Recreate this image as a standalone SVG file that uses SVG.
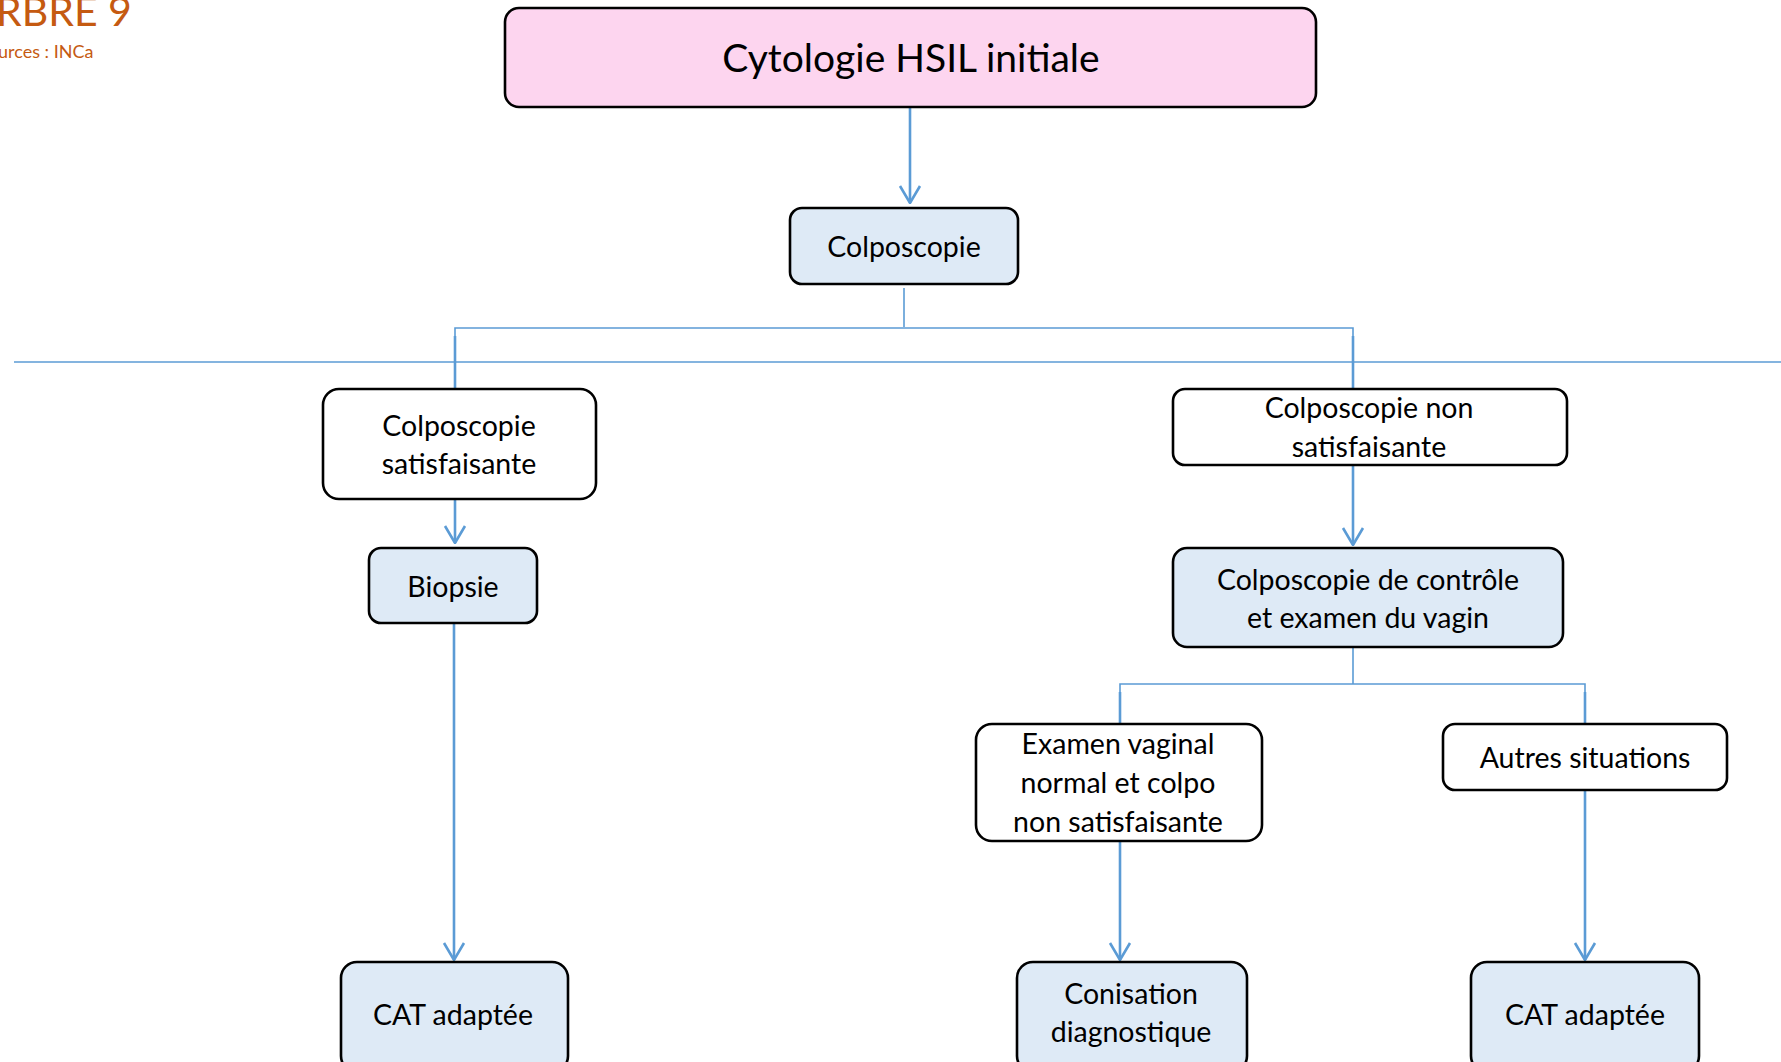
<svg xmlns="http://www.w3.org/2000/svg" width="1781" height="1062" viewBox="0 0 1781 1062">
<defs>
<style>
.box{stroke:#000;stroke-width:2.6}
.pink{fill:#FDD5EF}
.blue{fill:#DEEAF6}
.white{fill:#fff}
.t{font-family:Lato,"Open Sans","Liberation Sans",sans-serif;font-size:28.5px;fill:#000;text-anchor:middle}
.c{fill:none;stroke:#5B9BD5}
.thick{stroke-width:2.6}
.thin{stroke-width:1.6}
.org{font-family:Lato,"Open Sans","Liberation Sans",sans-serif;fill:#C55A11}
</style>
<marker id="ah" markerUnits="userSpaceOnUse" markerWidth="20" markerHeight="24" viewBox="-19 -12 20 24" refX="0" refY="0" orient="auto">
<path d="M-17,-10 L0,0 L-17,10" fill="none" stroke="#5B9BD5" stroke-width="2.6"/>
</marker>
</defs>
<rect width="1781" height="1062" fill="#fff"/>
<text class="org" x="-4" y="26" font-size="41">RBRE 9</text>
<text class="org" x="-2" y="58" font-size="18">urces : INCa</text>
<g id="connectors">
<line class="c thick" x1="910" y1="108" x2="910" y2="203" marker-end="url(#ah)"/>
<line class="c thin" x1="904" y1="288" x2="904" y2="327"/>
<polyline class="c thin" points="455,389 455,328 1353,328 1353,389"/>
<line class="c thin" x1="14" y1="362" x2="1781" y2="362"/>
<line class="c thick" x1="455" y1="336" x2="455" y2="389"/>
<line class="c thick" x1="1353" y1="336" x2="1353" y2="389"/>
<line class="c thick" x1="455" y1="499" x2="455" y2="543" marker-end="url(#ah)"/>
<line class="c thick" x1="1353" y1="465" x2="1353" y2="545" marker-end="url(#ah)"/>
<line class="c thick" x1="454" y1="623" x2="454" y2="960" marker-end="url(#ah)"/>
<line class="c thin" x1="1353" y1="647" x2="1353" y2="684"/>
<polyline class="c thin" points="1120,724 1120,684 1585,684 1585,724"/>
<line class="c thick" x1="1120" y1="692" x2="1120" y2="724"/>
<line class="c thick" x1="1585" y1="692" x2="1585" y2="724"/>
<line class="c thick" x1="1120" y1="841" x2="1120" y2="960" marker-end="url(#ah)"/>
<line class="c thick" x1="1585" y1="790" x2="1585" y2="960" marker-end="url(#ah)"/>
</g>
<g id="n-cytologie">
<rect class="box pink" x="505" y="8" width="811" height="99" rx="14"/>
<text class="t" x="911" y="72" style="font-size:39px">Cytologie HSIL initiale</text>
</g>
<g id="n-colposcopie">
<rect class="box blue" x="790" y="208" width="228" height="76" rx="12"/>
<text class="t" x="904" y="257">Colposcopie</text>
</g>
<g id="n-colpo-sat">
<rect class="box white" x="323" y="389" width="273" height="110" rx="16"/>
<text class="t" x="459" y="436">Colposcopie</text>
<text class="t" x="459" y="474">satisfaisante</text>
</g>
<g id="n-colpo-nonsat">
<rect class="box white" x="1173" y="389" width="394" height="76" rx="12"/>
<text class="t" x="1369" y="418">Colposcopie non</text>
<text class="t" x="1369" y="457">satisfaisante</text>
</g>
<g id="n-biopsie">
<rect class="box blue" x="369" y="548" width="168" height="75" rx="12"/>
<text class="t" x="453" y="597">Biopsie</text>
</g>
<g id="n-controle">
<rect class="box blue" x="1173" y="548" width="390" height="99" rx="14"/>
<text class="t" x="1368" y="590">Colposcopie de contrôle</text>
<text class="t" x="1368" y="628">et examen du vagin</text>
</g>
<g id="n-examen">
<rect class="box white" x="976" y="724" width="286" height="117" rx="16"/>
<text class="t" x="1118" y="754">Examen vaginal</text>
<text class="t" x="1118" y="793">normal et colpo</text>
<text class="t" x="1118" y="832">non satisfaisante</text>
</g>
<g id="n-autres">
<rect class="box white" x="1443" y="724" width="284" height="66" rx="12"/>
<text class="t" x="1585" y="768">Autres situations</text>
</g>
<g id="n-cat1">
<rect class="box blue" x="341" y="962" width="227" height="110" rx="16"/>
<text class="t" x="453" y="1025">CAT adaptée</text>
</g>
<g id="n-conisation">
<rect class="box blue" x="1017" y="962" width="230" height="110" rx="16"/>
<text class="t" x="1131" y="1004">Conisation</text>
<text class="t" x="1131" y="1042">diagnostique</text>
</g>
<g id="n-cat2">
<rect class="box blue" x="1471" y="962" width="228" height="110" rx="16"/>
<text class="t" x="1585" y="1025">CAT adaptée</text>
</g>
</svg>
